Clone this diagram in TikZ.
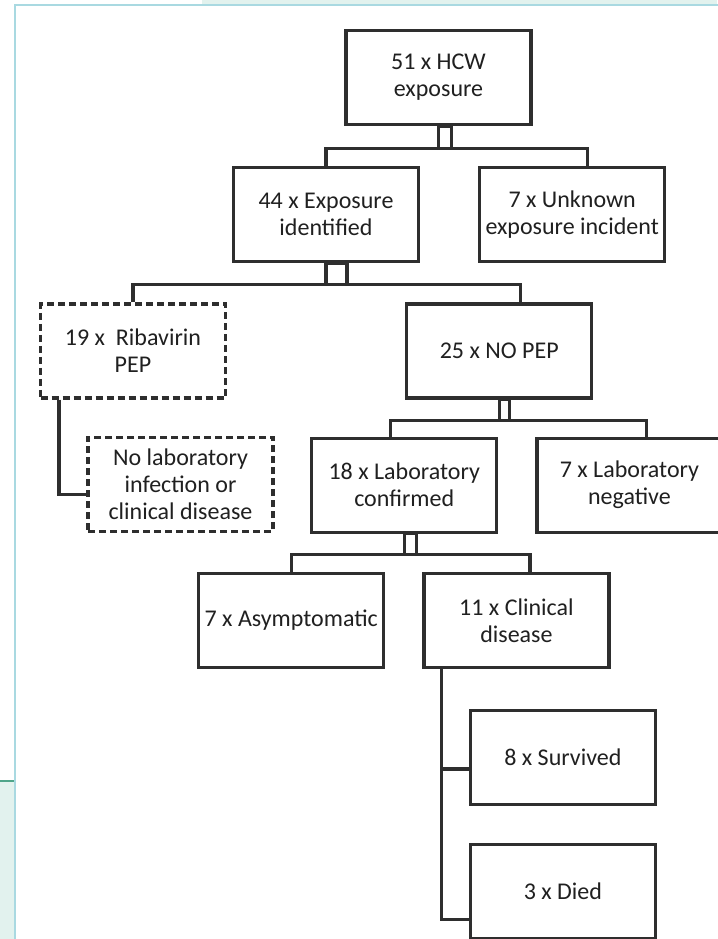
\documentclass[tikz,border=0pt]{standalone}
\usepackage{fontspec}
\setmainfont{Carlito}
\usetikzlibrary{positioning, calc}
\definecolor{grisoscuro}{HTML}{2E2E2E}
\definecolor{azulborde}{HTML}{A9D9E1}
\definecolor{verdefondo}{HTML}{E2F2EE}
\definecolor{verdelinea}{HTML}{4FA58A}
\colorlet{colLinea}{grisoscuro}
\colorlet{colTexto}{grisoscuro!70!black}
\tikzset{
  cajaBase/.style={
    draw=colLinea, line width=3.2pt,
    minimum height=94pt, minimum width=185pt, inner sep=2pt,
    align=center, font=\fontsize{24}{27}\selectfont, text=colTexto,
    fill=white
  },
  cajaPunteada/.style={cajaBase, dash pattern=on 7pt off 4pt},
  conector/.style={line width=3.2pt, colLinea},
  fondoPagina/.style={fill=verdefondo},
  bordeHoja/.style={draw=azulborde, line width=2pt},
}

\begin{document}
\begin{tikzpicture}[x=1pt, y=1pt]
    \useasboundingbox (0,0) rectangle (717,-939);
    \fill[fondoPagina] (202,0) rectangle (717,-5);
    \fill[fondoPagina] (0,-781) rectangle (15,-939);
    \draw[verdelinea, line width=1.5pt] (0,-781) -- (15,-781);
    \draw[bordeHoja] (720,-5) -- (15,-5) -- (15,-942);

    \node[cajaBase] (hcw) at (438.5,-77.5) {51 x HCW\\exposure};
    \node[cajaBase, below=40pt of hcw, xshift=-112.5pt] (identificada) {44 x Exposure\\identified};
    \node[cajaBase, right=58pt of identificada] (desconocida) {7 x Unknown\\exposure incident};
    \node[cajaPunteada, below=39pt of identificada, xshift=-193pt] (ribavirina) {19 x~ Ribavirin\\PEP};
    \node[cajaBase, right=178pt of ribavirina] (sinPep) {25 x NO PEP};
    \node[cajaPunteada, below=36pt of ribavirina, xshift=47.5pt] (sinInfeccion) {No laboratory\\infection or\\clinical disease};
    \node[cajaBase, below=37pt of sinPep, xshift=-95pt] (confirmado) {18 x Laboratory\\confirmed};
    \node[cajaBase, right=37pt of confirmado] (negativo) {7 x Laboratory\\negative};
    \node[cajaBase, below=38pt of confirmado, xshift=-113pt] (asintomatico) {7 x Asymptomatic};
    \node[cajaBase, right=37pt of asintomatico] (clinica) {11 x Clinical\\disease};
    \node[cajaBase, below=40pt of clinica, xshift=46.5pt] (sobrevivio) {8 x Survived};
    \node[cajaBase, below=37pt of sobrevivio] (murio) {3 x Died};

    \draw[conector] (hcw.south) rectangle ++(13,-22);
    \draw[conector] (identificada.north) |- ($(hcw.south)+(0,-22)$) -| ($(desconocida.north)+(15,0)$);
    \draw[conector] (identificada.south) rectangle ++(21,-21);
    \draw[conector] (ribavirina.north) |- ($(identificada.south)+(0,-21)$) -| ($(sinPep.north)+(21,0)$);
    \draw[conector] ($(ribavirina.south west)+(20,0)$) |- ($(sinInfeccion.west)+(0,-10)$);
    \draw[conector] (sinPep.south) rectangle ++(10,-21);
    \draw[conector] ($(confirmado.north)+(-14,0)$) |- ($(sinPep.south)+(0,-21)$) -| ($(negativo.north)+(17,0)$);
    \draw[conector] (confirmado.south) rectangle ++(12,-21);
    \draw[conector] (asintomatico.north) |- ($(confirmado.south)+(0,-21)$) -| ($(clinica.north)+(13.5,0)$);
    \draw[conector] ($(clinica.south west)+(19,0)$) |- ($(sobrevivio.west)+(0,-11.5)$);
    \draw[conector] ($(clinica.south west)+(19,0)$) |- ($(murio.west)+(0,-27.5)$);
  \end{tikzpicture}
\end{document}
